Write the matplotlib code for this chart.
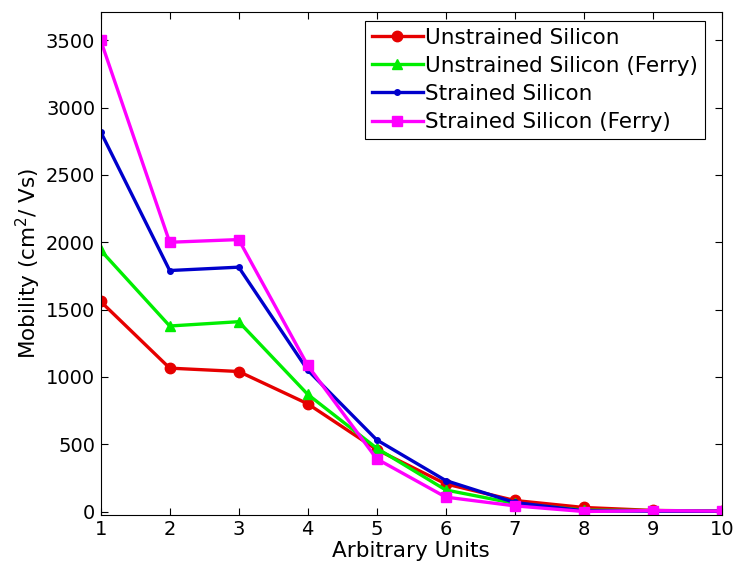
import numpy as np
import matplotlib
matplotlib.use("Agg")
import matplotlib.pyplot as plt

# values
x = [1, 2, 3, 4, 5, 6, 7, 8, 9, 10]
unstrained = [1560, 1065, 1040, 800, 460, 205, 82, 30, 8, 3]
unstrained_ferry = [1940, 1378, 1410, 870, 470, 160, 60, 10, 7, 3]
strained = [2820, 1790, 1815, 1050, 532, 230, 67, 5, 3, 2]
strained_ferry = [3500, 2000, 2020, 1085, 391, 107, 42, 0, 7, 3]
labels = ["Unstrained Silicon", "Unstrained Silicon (Ferry)",
          "Strained Silicon", "Strained Silicon (Ferry)"]

plt.rcParams['font.family'] = ['DejaVu Sans']

fig = plt.figure(figsize=(7.35, 5.74), dpi=100)
ax = fig.add_axes([0.137, 0.103, 0.845, 0.876])

lw = 2.4
ax.plot(x, unstrained, color='#e60000', lw=lw, marker='o', ms=7.5, label=labels[0])
ax.plot(x, unstrained_ferry, color='#00ee00', lw=lw, marker='^', ms=7.5, label=labels[1])
ax.plot(x, strained, color='#0000cc', lw=lw, marker='.', ms=8, label=labels[2])
ax.plot(x, strained_ferry, color='#ff00ff', lw=lw, marker='s', ms=7.5, label=labels[3])

ax.set_xlim(1, 10)
ax.set_ylim(-25, 3710)
ax.set_xticks(range(1, 11))
ax.set_yticks(range(0, 3501, 500))
ax.tick_params(direction='in', top=True, right=True, length=5, labelsize=14, pad=4)
ax.set_xlabel("Arbitrary Units", fontsize=15.5, labelpad=1)
ax.set_ylabel("Mobility (cm$^2$/ Vs)", fontsize=15.5, labelpad=2)

leg = ax.legend(loc='upper right', bbox_to_anchor=(0.9726, 0.982), fontsize=15.5,
                fancybox=False, framealpha=1, edgecolor='black',
                handlelength=2.4, handletextpad=0.1, borderpad=0.3,
                labelspacing=0.38, borderaxespad=0)
leg.get_frame().set_linewidth(0.8)

fig.savefig("out.png", dpi=100)
